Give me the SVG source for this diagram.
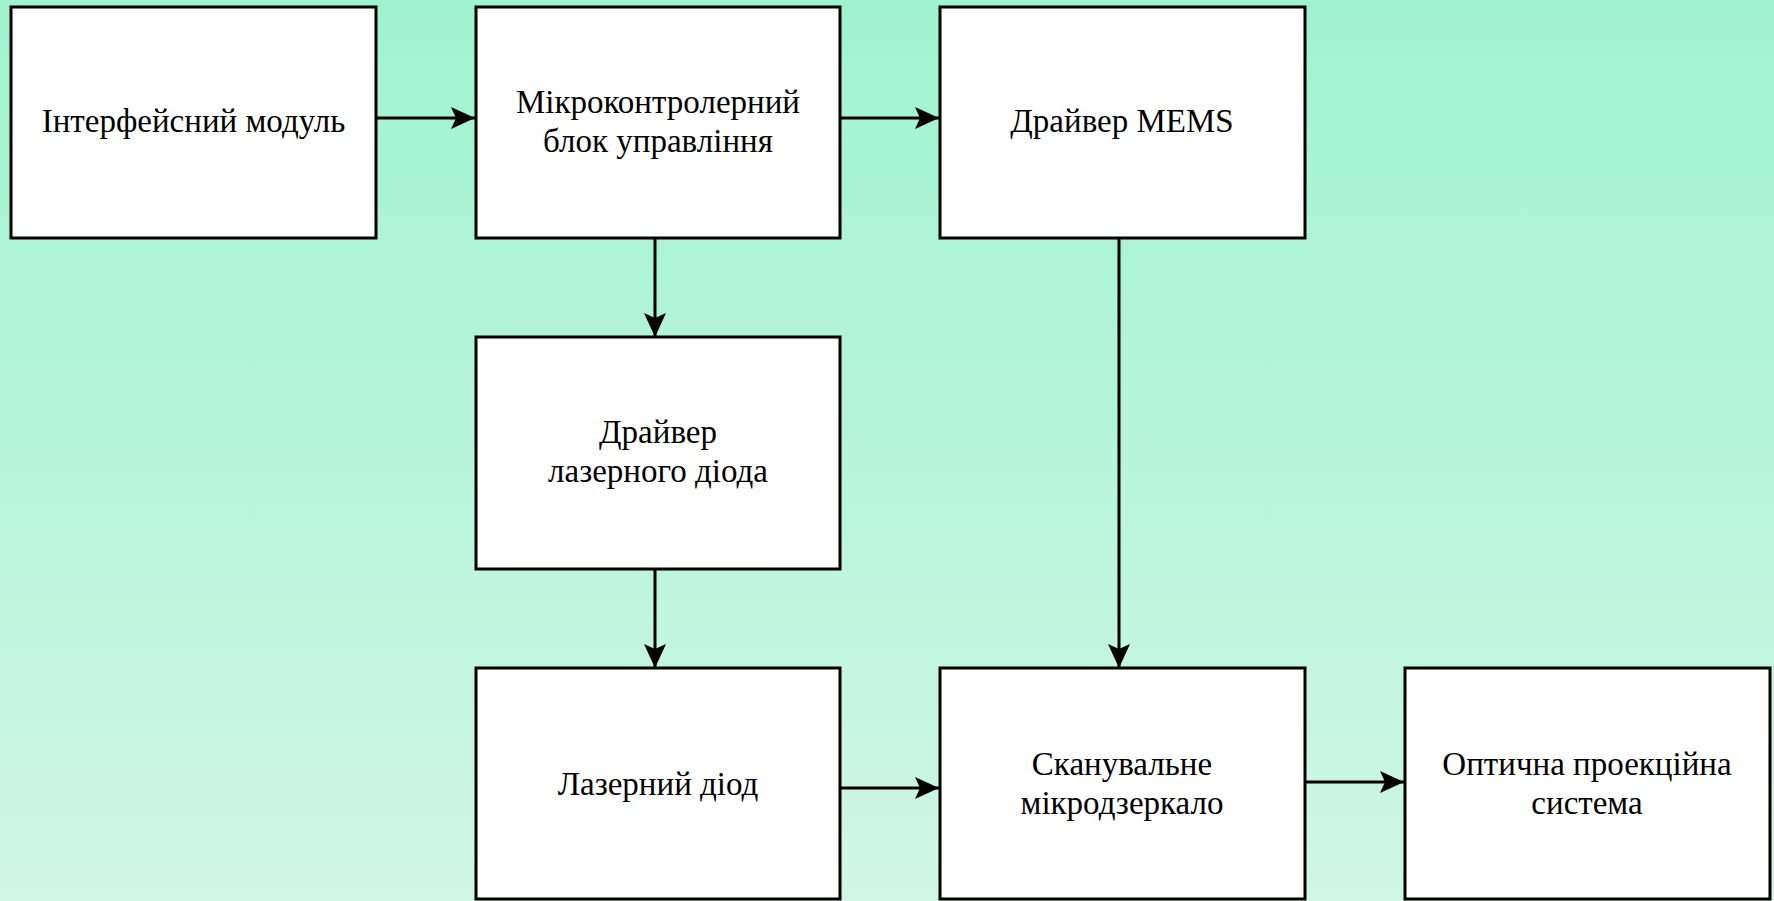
<svg xmlns="http://www.w3.org/2000/svg" width="1774" height="901" viewBox="0 0 1774 901">
<defs>
<linearGradient id="bg" x1="0" y1="0" x2="0" y2="1">
<stop offset="0" stop-color="#9ff3cf"/>
<stop offset="1" stop-color="#d0f6e6"/>
</linearGradient>
<marker id="ah" markerWidth="24" markerHeight="24" viewBox="0 0 24 24" refX="24" refY="12" orient="auto" markerUnits="userSpaceOnUse">
<path d="M0,1 L24,12 L0,23 L5,12 Z" fill="#000"/>
</marker>
<style>
.box{fill:#fff;stroke:#000;stroke-width:3}
.t{font-family:'Liberation Serif','DejaVu Serif',serif;font-size:33px;fill:#000;text-anchor:middle}
.c{fill:none;stroke:#000;stroke-width:3;marker-end:url(#ah)}
</style>
</defs>
<rect x="0" y="0" width="1774" height="901" fill="url(#bg)"/>
<g id="connectors">
<line class="c" x1="376" y1="118" x2="475" y2="118"/>
<line class="c" x1="840" y1="118" x2="939" y2="118"/>
<line class="c" x1="655" y1="238" x2="655" y2="337"/>
<line class="c" x1="655" y1="569" x2="655" y2="668"/>
<line class="c" x1="1119" y1="238" x2="1119" y2="668"/>
<line class="c" x1="840" y1="788" x2="939" y2="788"/>
<line class="c" x1="1304" y1="782" x2="1404" y2="782"/>
</g>
<g id="interface" font-family="Liberation Serif, serif">
<rect class="box" x="11" y="7" width="365" height="231"/>
<text class="t" x="193.5" y="132">Інтерфейсний модуль</text>
</g>
<g id="mcu" font-family="Liberation Serif, serif">
<rect class="box" x="476" y="7" width="364" height="231"/>
<text class="t" x="658" y="113">Мікроконтролерний</text>
<text class="t" x="658" y="152">блок управління</text>
</g>
<g id="mems-driver" font-family="Liberation Serif, serif">
<rect class="box" x="940" y="7" width="365" height="231"/>
<text class="t" x="1122" y="132">Драйвер MEMS</text>
</g>
<g id="laser-driver" font-family="Liberation Serif, serif">
<rect class="box" x="476" y="337" width="364" height="232"/>
<text class="t" x="658" y="443">Драйвер</text>
<text class="t" x="658" y="482">лазерного діода</text>
</g>
<g id="laser-diode" font-family="Liberation Serif, serif">
<rect class="box" x="476" y="668" width="364" height="231"/>
<text class="t" x="658" y="795">Лазерний діод</text>
</g>
<g id="micromirror" font-family="Liberation Serif, serif">
<rect class="box" x="940" y="668" width="365" height="231"/>
<text class="t" x="1122" y="775">Сканувальне</text>
<text class="t" x="1122" y="814">мікродзеркало</text>
</g>
<g id="optics" font-family="Liberation Serif, serif">
<rect class="box" x="1405" y="668" width="365" height="231"/>
<text class="t" x="1587" y="775">Оптична проекційна</text>
<text class="t" x="1587" y="814">система</text>
</g>
</svg>
